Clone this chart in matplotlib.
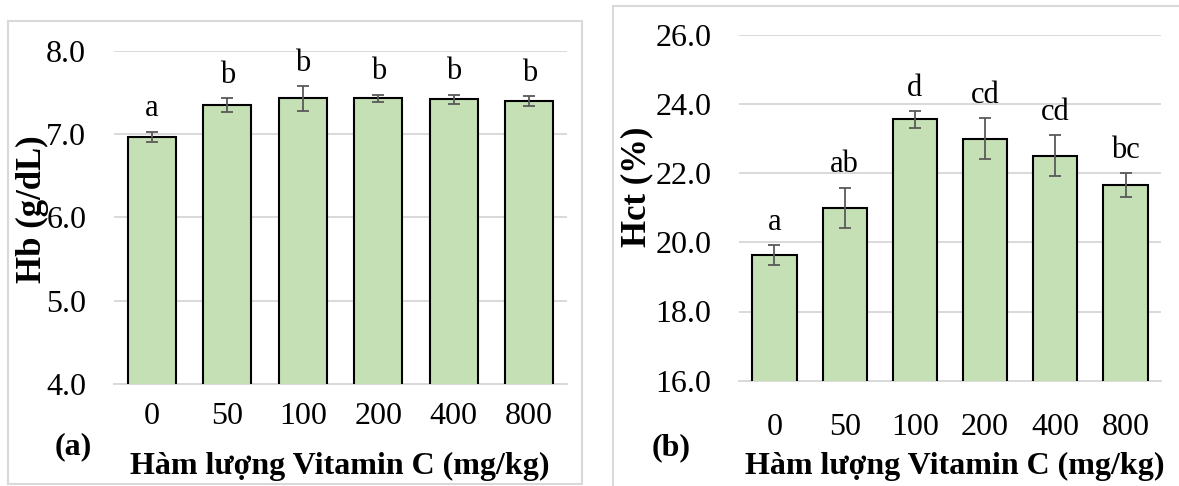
import numpy as np
import matplotlib
matplotlib.use("Agg")
import matplotlib.pyplot as plt
from matplotlib.patches import Rectangle

plt.rcParams['font.family'] = ['Liberation Serif', 'DejaVu Serif']

doses = ["0", "50", "100", "200", "400", "800"]

hb_mean = [6.97, 7.35, 7.43, 7.43, 7.42, 7.40]
hb_err = [0.06, 0.08, 0.15, 0.045, 0.055, 0.06]
hb_letters = ["a", "b", "b", "b", "b", "b"]

hct_mean = [19.62, 21.0, 23.55, 23.0, 22.5, 21.65]
hct_err = [0.29, 0.58, 0.24, 0.58, 0.59, 0.34]
hct_letters = ["a", "ab", "d", "cd", "cd", "bc"]

W, H = 1179, 486
BAR_COLOR = "#C5E0B4"
GRID_COLOR = "#D9D9D9"
ERR_COLOR = "#595959"
XLABEL = "Hàm lượng Vitamin C (mg/kg)"
FS = 23


def px(x, y):
    # pixel position (from top-left) -> figure fraction
    return x / W, 1 - y / H


def draw_panel(ax, means, errs, letters, ylim, step, xpad):
    x = np.arange(len(doses))
    ax.bar(x, means, width=0.63, color=BAR_COLOR, edgecolor="black",
           linewidth=1.5, zorder=3)
    ax.errorbar(x, means, yerr=errs, fmt="none", ecolor=ERR_COLOR,
                elinewidth=1.3, capsize=4.5, capthick=1.3, zorder=4)
    for xi, m, e, t in zip(x, means, errs, letters):
        ax.annotate(t, (xi, m + e), xytext=(0, 6), textcoords="offset points",
                    ha="center", va="bottom", fontsize=22)
    ax.set_xlim(-0.5, len(doses) - 0.5)
    ax.set_ylim(*ylim)
    ax.set_yticks(np.arange(ylim[0], ylim[1] + step / 2, step))
    ax.yaxis.set_major_formatter(plt.FormatStrFormatter("%.1f"))
    ax.set_xticks(x)
    ax.set_xticklabels(doses)
    ax.tick_params(axis="both", length=0, labelsize=FS)
    ax.tick_params(axis="y", pad=20)
    ax.tick_params(axis="x", pad=xpad)
    ax.grid(axis="y", color=GRID_COLOR, linewidth=1.4, zorder=0)
    ax.set_axisbelow(True)
    for s in ["top", "right", "left"]:
        ax.spines[s].set_visible(False)
    ax.spines["bottom"].set_color(GRID_COLOR)
    ax.spines["bottom"].set_linewidth(1.4)


fig = plt.figure(figsize=(W / 100, H / 100), dpi=100)

# panel frames
x0, y0 = px(8, 484)
x1, y1 = px(582, 21)
fig.patches.append(Rectangle((x0, y0), x1 - x0, y1 - y0, transform=fig.transFigure,
                             fill=False, edgecolor=GRID_COLOR, linewidth=1.5))
x0, y0 = px(613, 500)
x1, y1 = px(1200, 6)
fig.patches.append(Rectangle((x0, y0), x1 - x0, y1 - y0, transform=fig.transFigure,
                             fill=False, edgecolor=GRID_COLOR, linewidth=1.5))

ax1 = fig.add_axes([114 / W, 1 - 384 / H, (567 - 114) / W, (384 - 51) / H])
draw_panel(ax1, hb_mean, hb_err, hb_letters, (4, 8), 1.0, 13)

ax2 = fig.add_axes([739.3 / W, 1 - 380.7 / H, (1160.7 - 739.3) / W, (380.7 - 34.7) / H])
draw_panel(ax2, hct_mean, hct_err, hct_letters, (16, 26), 2.0, 23)

fig.text(*px(340, 474), XLABEL, ha="center", va="baseline",
         fontsize=FS, fontweight="bold")
fig.text(*px(955, 474), XLABEL, ha="center", va="baseline",
         fontsize=FS, fontweight="bold")
fig.text(*px(32, 209), "Hb (g/dL)", ha="center", va="center", rotation=90,
         fontsize=25, fontweight="bold")
fig.text(*px(637, 187), "Hct (%)", ha="center", va="center", rotation=90,
         fontsize=25, fontweight="bold")
fig.text(*px(73, 447), "(a)", ha="center", va="center", fontsize=FS,
         fontweight="bold")
fig.text(*px(671, 448), "(b)", ha="center", va="center", fontsize=FS,
         fontweight="bold")

fig.savefig("out.png", dpi=100)
